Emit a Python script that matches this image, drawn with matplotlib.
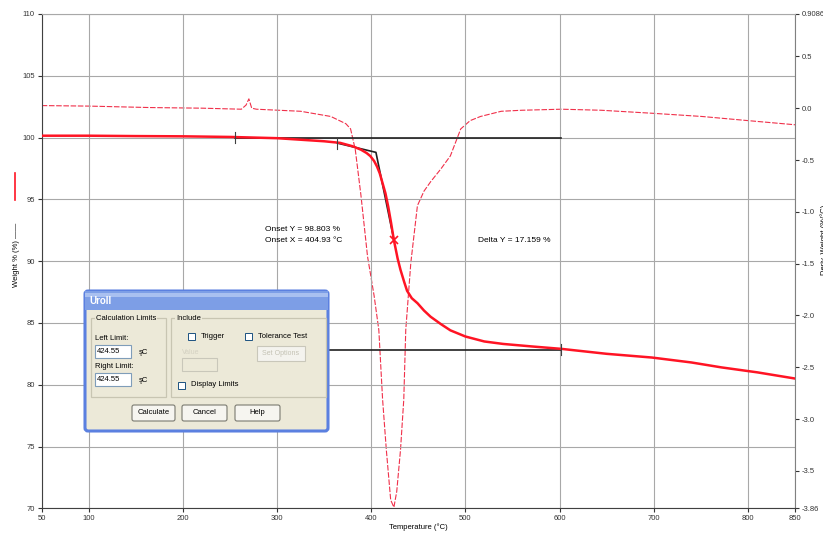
import matplotlib

matplotlib.use("Agg")
import matplotlib.pyplot as plt
from matplotlib.patches import Rectangle, FancyBboxPatch
from matplotlib.lines import Line2D

plt.rcParams["font.family"] = ["Liberation Sans", "DejaVu Sans"]

# weight curve (left axis, %)
temp_weight = [50, 100, 150, 200, 250, 300, 330, 350, 367, 380, 389, 395, 399, 403,
               406, 409, 412, 415, 418, 421, 424, 428, 431, 435, 438, 443, 449, 456,
               463, 474, 484, 500, 520, 540, 570, 602, 650, 698, 740, 772, 810, 850]
weight = [100.15, 100.15, 100.12, 100.1, 100.05, 99.95, 99.8, 99.7, 99.57, 99.3, 99.02,
          98.75, 98.5, 98.1, 97.67, 97.1, 96.3, 95.5, 94.4, 93.1, 91.7, 90.2, 89.3, 88.3,
          87.6, 87.0, 86.6, 86.0, 85.5, 84.9, 84.4, 83.9, 83.5, 83.3, 83.1, 82.9, 82.5,
          82.2, 81.8, 81.4, 81.0, 80.5]

# derivative weight curve (right axis, %/°C)
temp_deriv = [50, 100, 165, 220, 262, 267, 270, 273, 278, 325, 357, 373, 378, 383, 389,
              396, 403, 408, 412, 416, 420.6, 424, 427, 431, 434.5, 436.6, 442, 449, 456,
              463, 474, 484, 495, 505, 516, 538, 560, 602, 644, 700, 751, 800, 850]
deriv = [0.025, 0.02, 0.006, 0.0, -0.01, 0.03, 0.09, 0.0, -0.01, -0.03, -0.08, -0.15,
         -0.20, -0.40, -0.84, -1.43, -1.81, -2.14, -2.81, -3.30, -3.78, -3.85, -3.70,
         -3.30, -2.81, -2.14, -1.49, -0.94, -0.80, -0.71, -0.585, -0.46, -0.20, -0.12,
         -0.08, -0.03, -0.02, -0.01, -0.02, -0.05, -0.08, -0.12, -0.16]

# onset construction lines
baseline_T = [255, 601.6]
baseline_W = [100.0, 100.0]
tangent_T = [364, 404.93, 424.1]
tangent_W = [99.55, 98.803, 91.7]
final_T = [300, 601.6]
final_W = [82.84, 82.84]
limit_T = [255, 364, 601.6]
limit_W = [100.0, 99.55, 82.84]
onset_mark = (424.1, 91.7)

x_ticks = [50, 100, 200, 300, 400, 500, 600, 700, 800, 850]
y_ticks = [70, 75, 80, 85, 90, 95, 100, 105, 110]
y2_ticks = [0.9086, 0.5, 0.0, -0.5, -1.0, -1.5, -2.0, -2.5, -3.0, -3.5, -3.86]
y2_labels = ["0.9086", "0.5", "0.0", "-0.5", "-1.0", "-1.5", "-2.0", "-2.5", "-3.0",
             "-3.5", "-3.86"]

RED = "#ff1424"
DRED = "#f0304a"
GRID = "#a8a8a8"

fig = plt.figure(figsize=(8.23, 5.36), dpi=100)
ax = fig.add_axes([0.0507, 0.0517, 0.9153, 0.9222])
ax.set_xlim(50, 850)
ax.set_ylim(70, 110)
ax.set_xticks(x_ticks)
ax.set_yticks(y_ticks)
ax.grid(True, color=GRID, lw=0.8)
ax.tick_params(labelsize=5.5, length=3, width=0.8, colors="#333333", pad=2)
for side in ("left", "bottom"):
    ax.spines[side].set_color("#404040")
ax.spines["top"].set_color(GRID)
ax.spines["right"].set_color("#808080")
ax.set_xlabel("Temperature (°C)", fontsize=5.5, labelpad=1)

ax2 = ax.twinx()
ax2.set_ylim(-3.86, 0.9086)
ax2.set_yticks(y2_ticks)
ax2.set_yticklabels(y2_labels)
ax2.tick_params(labelsize=5.5, length=3, width=0.8, colors="#333333", pad=2)
for s in ax2.spines.values():
    s.set_visible(False)

ax2.plot(temp_deriv, deriv, color=DRED, lw=0.8, dashes=(5, 1.5), zorder=2)

ax.plot(baseline_T, baseline_W, color="#202020", lw=1.2, zorder=3)
ax.plot(final_T, final_W, color="#202020", lw=1.2, zorder=3)
ax.plot(tangent_T, tangent_W, color="#202020", lw=1.2, zorder=3)
ax.plot(temp_weight, weight, color=RED, lw=1.8, zorder=4)
for t, w in zip(limit_T, limit_W):
    ax.plot([t, t], [w - 0.45, w + 0.45], color="#404040", lw=0.8, zorder=5)
ax.plot(*onset_mark, marker="x", color=RED, ms=6, mew=1.2, zorder=6)

ax.text(287.5, 92.6, "Onset Y = 98.803 %", fontsize=6, va="center", zorder=6)
ax.text(287.5, 91.63, "Onset X = 404.93 °C", fontsize=6, va="center", zorder=6)
ax.text(513, 91.63, "Delta Y = 17.159 %", fontsize=6, va="center", zorder=6)

ax.set_zorder(ax2.get_zorder() + 1)
ax.patch.set_visible(False)

# y-axis label with curve key
fig.add_artist(Line2D([15 / 823, 15 / 823], [1 - 200 / 536, 1 - 173 / 536], color=RED, lw=1.2))
fig.text(16.5 / 823, 1 - 287 / 536, "Weight % (%) ——", rotation=90, fontsize=5.5,
         ha="center", va="bottom")
fig.text(0.997, 1 - 240 / 536, "Deriv. Weight (%/°C)", rotation=90, fontsize=5.5,
         ha="left", va="center")

# dialog overlay, in figure pixel coordinates
ov = fig.add_axes([0, 0, 1, 1], zorder=10)
ov.set_xlim(0, 823)
ov.set_ylim(536, 0)
ov.axis("off")

BEIGE = "#ece9d8"
ov.add_patch(FancyBboxPatch((85, 291), 243, 140, boxstyle="round,pad=0,rounding_size=3",
                            fc=BEIGE, ec="#5b80e0", lw=2.2))
ov.add_patch(Rectangle((85, 291), 243, 19, fc="#7d9ee6", ec="none"))
ov.add_patch(Rectangle((85, 293), 243, 4, fc="#a9c0f0", ec="none"))
ov.text(89, 301, "Uroll", fontsize=7, color="white", fontweight="bold", va="center")

def group(x0, y0, x1, y1, label):
    ov.add_patch(Rectangle((x0, y0), x1 - x0, y1 - y0, fc="none", ec="#c8c5b2", lw=0.9))
    ov.text(x0 + 5, y0, label, fontsize=5.5, va="center",
            bbox=dict(fc=BEIGE, ec="none", pad=0.5))

group(91, 318, 166, 397, "Calculation Limits")
group(171, 318, 326, 397, "Include")

def textbox(x0, y0, x1, y1, txt=""):
    ov.add_patch(Rectangle((x0, y0), x1 - x0, y1 - y0, fc="white", ec="#7f9db9", lw=0.8))
    if txt:
        ov.text(x0 + 2, (y0 + y1) / 2, txt, fontsize=5.5, va="center")

ov.text(95, 339, "Left Limit:", fontsize=5.5, va="center")
textbox(95, 345, 131, 358, "424.55")
ov.text(139, 352, "şC", fontsize=5.5, va="center")
ov.text(95, 367, "Right Limit:", fontsize=5.5, va="center")
textbox(95, 373, 131, 386, "424.55")
ov.text(139, 380, "şC", fontsize=5.5, va="center")

def checkbox(x, y, label):
    ov.add_patch(Rectangle((x, y - 3.5), 7, 7, fc="white", ec="#1c5180", lw=0.7))
    ov.text(x + 13, y, label, fontsize=5.5, va="center")

checkbox(188, 336, "Trigger")
checkbox(245, 336, "Tolerance Test")
checkbox(178, 385, "Display Limits")

ov.add_patch(Rectangle((257, 346), 48, 15, fc="#f4f3ee", ec="#c9c7ba", lw=0.8))
ov.text(281, 353.5, "Set Options", fontsize=5, color="#c4c2b4", ha="center", va="center")
ov.text(182, 352, "Value", fontsize=5, color="#d4d1c2", va="center")
ov.add_patch(Rectangle((182, 358), 35, 13, fc=BEIGE, ec="#c9c7ba", lw=0.8))

for x0, x1, label in ((132, 175, "Calculate"), (182, 227, "Cancel"), (235, 280, "Help")):
    ov.add_patch(FancyBboxPatch((x0, 405), x1 - x0, 16, boxstyle="round,pad=0,rounding_size=2",
                                fc="#f6f5f0", ec="#7a7a70", lw=0.8))
    ov.text((x0 + x1) / 2, 413, label, fontsize=5.5, ha="center", va="center")

fig.savefig("out.png", dpi=100)
